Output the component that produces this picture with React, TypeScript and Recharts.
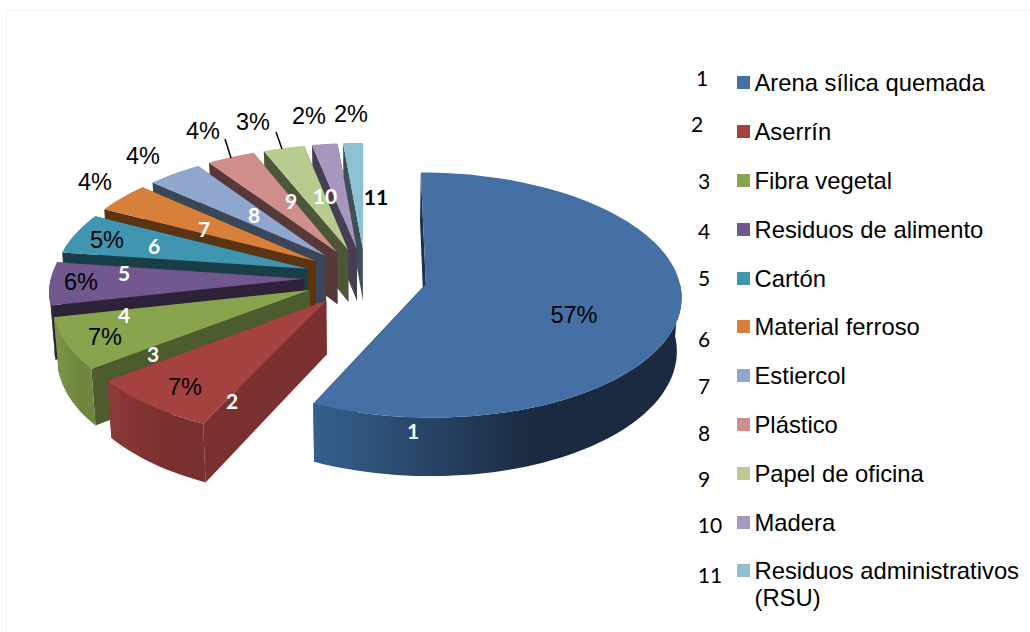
import * as React from "react";
import { PieChart, Pie, Legend } from "recharts";

const categories = [
  "Arena sílica quemada",
  "Aserrín",
  "Fibra vegetal",
  "Residuos de alimento",
  "Cartón",
  "Material ferroso",
  "Estiercol",
  "Plástico",
  "Papel de oficina",
  "Madera",
  "Residuos administrativos (RSU)",
];
const values = [57.0, 7.6, 6.9, 5.7, 5.4, 4.0, 3.9, 3.4, 2.9, 1.8, 1.4];
const percentLabels = ["57%", "7%", "7%", "6%", "5%", "4%", "4%", "4%", "3%", "2%", "2%"];

const topColors = ["#4470A5", "#A5423F", "#88A44D", "#71588F", "#4096B0", "#D8803A", "#8FA6CF", "#CF8E8C", "#B8CC90", "#A797BF", "#8EC0D4"];
const cutColors = ["#1C2F47", "#7A302E", "#4D5C2C", "#2E2239", "#1A3E48", "#5C3414", "#3B4658", "#57393A", "#4D5638", "#463E52", "#3C5058"];
const wallFrom = ["#35608F", "#8C3936", "#7C9646", "#4A3A5E", "#2A6272", "#8C5422", "#5E6C87", "#87605E", "#7A8660", "#6E6380", "#5E7E8C"];
const wallTo = ["#1A2A40", "#7A302E", "#6F863F", "#2E2239", "#1A3E48", "#5C3414", "#3B4658", "#57393A", "#4D5638", "#463E52", "#3C5058"];

// hand placed text, same order as categories
const percentSpots = [[574, 315], [185, 387], [105, 337], [81, 282], [107, 240], [95, 182], [143, 156], [203, 131], [253, 122], [309, 116], [351, 114]];
const numberSpots = [[413, 430], [232, 400], [153, 353], [124, 314], [124, 272], [154, 245], [204, 228], [254, 214], [291, 200], [325, 195], [376, 196]];
const legendNumberSpots = [[702, 78], [697, 124], [704, 181], [704, 231], [704, 278], [704, 339], [704, 386], [704, 433], [704, 479], [710, 525], [710, 575]];
const leaders: Record<number, number[]> = { 7: [225, 139, 231, 158], 8: [276, 132, 282, 149] };

const EXPLODE = 0.243;
const FLATTEN = 0.476;
const PERSPECTIVE = 0.09;
const DEPTH = 53;
const rad = (d: number) => (d * Math.PI) / 180;

// drawn back to front, so the pie walks counterclockwise from the top starting at the last slice
const tableData = categories
  .map((name, i) => ({ name, value: values[i], order: i }))
  .reverse();

function Slice3D(props: any) {
  const { cx, cy, outerRadius: R, startAngle, endAngle, payload } = props;
  const i = payload.order ?? props.order;
  const t1 = 90 - endAngle;
  const t2 = 90 - startAngle;
  const mid = (t1 + t2) / 2;
  const ox = EXPLODE * Math.sin(rad(mid));
  const oy = EXPLODE * Math.cos(rad(mid));

  const top = (u: number, v: number) => {
    const X = ox + u;
    const Y = oy + v;
    const p = 1 / (1 + PERSPECTIVE * Y);
    return [cx + R * X * p, cy - R * FLATTEN * Y * p, p];
  };
  const down = (pt: number[]) => [cx + (pt[0] - cx) * 0.985, pt[1] + DEPTH * pt[2], pt[2]];
  const d = (pts: number[][]) => "M" + pts.map((q) => `${q[0].toFixed(1)},${q[1].toFixed(1)}`).join("L") + "Z";

  const steps = Math.max(2, Math.ceil((t2 - t1) / 2));
  const arc: number[][] = [];
  const front: number[][] = [];
  for (let s = 0; s <= steps; s++) {
    const t = rad(t1 + ((t2 - t1) * s) / steps);
    const pt = top(Math.sin(t), Math.cos(t));
    arc.push(pt);
    // only the part of the rim that faces the viewer gets a wall
    if (Math.cos(t) < 0.03) front.push(pt);
  }
  const apex = top(0, 0);
  const gid = `wall-${i}`;
  const low = front.map(down);

  return (
    <g>
      <defs>
        <linearGradient id={gid} x1="0" y1="0" x2="1" y2="0">
          <stop offset="0" stopColor={wallFrom[i]} />
          <stop offset="0.6" stopColor={wallTo[i]} />
          <stop offset="1" stopColor={wallTo[i]} />
        </linearGradient>
      </defs>
      <path d={d([apex, arc[0], down(arc[0]), down(apex)])} fill={cutColors[i]} />
      <path d={d([apex, arc[steps], down(arc[steps]), down(apex)])} fill={cutColors[i]} />
      {front.length > 1 && <path d={d([...front, ...low.slice().reverse()])} fill={`url(#${gid})`} />}
      <path d={d([apex, ...arc])} fill={topColors[i]} />
    </g>
  );
}

function sliceLabel(props: any) {
  const i = categories.length - 1 - props.index;
  const line = leaders[i];
  return (
    <g key={`lab-${i}`}>
      {line && <line x1={line[0]} y1={line[1]} x2={line[2]} y2={line[3]} stroke="#000" strokeWidth={1.5} />}
      <text x={percentSpots[i][0]} y={percentSpots[i][1]} textAnchor="middle" dominantBaseline="central" fontFamily="Liberation Sans" fontSize={23.5} fill="#000">
        {percentLabels[i]}
      </text>
      <text x={numberSpots[i][0]} y={numberSpots[i][1]} textAnchor="middle" dominantBaseline="central" fontFamily="Lato" fontWeight={700} fontSize={21} fill={i === 10 ? "#000" : "#fff"}>
        {i + 1}
      </text>
    </g>
  );
}

function LegendBox() {
  return (
    <div style={{ position: "relative", width: 1030, height: 632 }}>
      {legendNumberSpots.map((q, i) => (
        <span key={i} style={{ position: "absolute", left: q[0] - 20, width: 40, top: q[1] - 13, lineHeight: "26px", textAlign: "center", fontFamily: "Lato", fontSize: 21, color: "#000" }}>
          {i + 1}
        </span>
      ))}
      {categories.map((name, i) => (
        <div key={name} style={{ position: "absolute", left: 737, top: 58.4 + i * 48.8, width: 286 }}>
          <span style={{ position: "absolute", left: 0, top: 18, width: 13, height: 13, background: topColors[i] }} />
          <span style={{ position: "absolute", left: 17.5, top: 11, width: 274, lineHeight: "27px", fontFamily: "Liberation Sans", fontSize: 23.8, color: "#000" }}>{name}</span>
        </div>
      ))}
    </div>
  );
}

export default function App() {
  return (
    <div style={{ position: "absolute", left: 0, top: 0, width: 1030, height: 632, overflow: "hidden", background: "#fff" }}>
      <div style={{ position: "absolute", left: 6, top: 10, width: 1100, height: 700, border: "1.5px solid #F2F2EC" }} />
      <PieChart width={1030} height={632} margin={{ top: 0, right: 0, bottom: 0, left: 0 }} style={{ position: "absolute", left: 0, top: 0 }}>
        <Pie
          data={tableData}
          dataKey="value"
          nameKey="name"
          cx={365.5}
          cy={277.5}
          innerRadius={0}
          outerRadius={253}
          startAngle={90}
          endAngle={450}
          stroke="none"
          shape={Slice3D}
          label={sliceLabel}
          labelLine={false}
          isAnimationActive={false}
        />
        <Legend
          layout="vertical"
          align="right"
          verticalAlign="middle"
          content={<LegendBox />}
          wrapperStyle={{ position: "absolute", left: 0, top: 0, width: 1030, height: 632, pointerEvents: "none" }}
        />
      </PieChart>
    </div>
  );
}
